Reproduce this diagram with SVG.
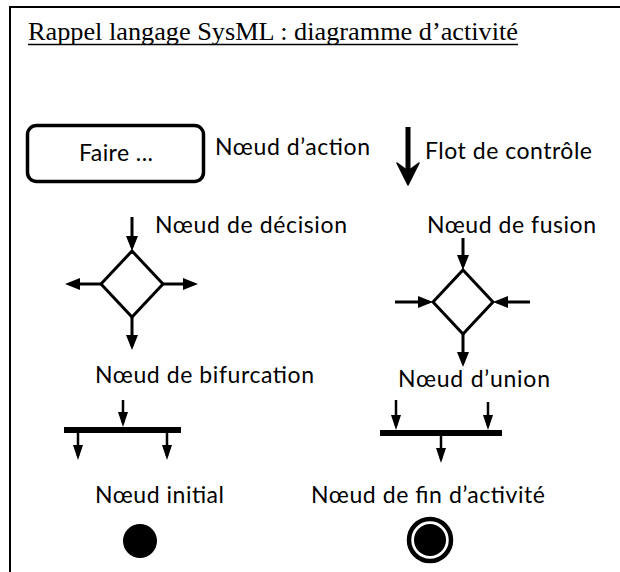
<svg xmlns="http://www.w3.org/2000/svg" width="620" height="572" viewBox="0 0 620 572">
<style>
.lbl{font-family:Lato,"Open Sans","Liberation Sans",sans-serif;font-size:23px;fill:#000}
.ttl{font-family:"Liberation Serif","Times New Roman",serif;font-size:25px;fill:#000}
.ln{stroke:#000;stroke-width:3;fill:none}
.thin{stroke:#000;stroke-width:2.5;fill:none}
.sh{stroke:#000;stroke-width:3;fill:#fff}
</style>
<defs>
<marker id="ah" viewBox="0 0 15 12" markerWidth="15" markerHeight="12" refX="11" refY="6" orient="auto" markerUnits="userSpaceOnUse">
<path d="M0,0 L15,6 L0,12 z" fill="#000"/>
</marker>
<marker id="ahs" viewBox="0 0 15 10" markerWidth="15" markerHeight="10" refX="11" refY="5" orient="auto" markerUnits="userSpaceOnUse">
<path d="M0,0 L15,5 L0,10 z" fill="#000"/>
</marker>
</defs>
<rect width="620" height="572" fill="#fff"/>
<path d="M10,572 V7 H620" stroke="#000" stroke-width="2" fill="none"/>
<g id="title">
<text class="ttl" x="28" y="40" textLength="490" lengthAdjust="spacingAndGlyphs">Rappel langage SysML : diagramme d’activité</text>
<line x1="28" y1="44.5" x2="518" y2="44.5" stroke="#000" stroke-width="1.3"/>
</g>
<g id="action">
<rect x="27.5" y="125.5" width="176" height="56" rx="9" ry="9" fill="#fff" stroke="#000" stroke-width="3.5"/>
<text class="lbl" x="79" y="161" textLength="74">Faire ...</text>
<text class="lbl" x="215" y="155" textLength="155">Nœud d’action</text>
</g>
<g id="flow">
<line x1="408" y1="127" x2="408" y2="175" stroke="#000" stroke-width="5"/>
<polygon points="397,163 408,185 419,163 408,171" fill="#000" stroke="#000" stroke-width="1.5" stroke-linejoin="round"/>
<text class="lbl" x="425" y="159" textLength="167">Flot de contrôle</text>
</g>
<g id="decision">
<polygon class="sh" points="132,251 163,284 132,317 101,284"/>
<text class="lbl" x="155" y="233" textLength="192">Nœud de décision</text>
</g>
<g id="fusion">
<polygon class="sh" points="463,270 493,302 463,334 433,302"/>
<text class="lbl" x="427" y="233" textLength="169">Nœud de fusion</text>
</g>
<g id="fork">
<rect x="64" y="427" width="117" height="6" fill="#000"/>
<text class="lbl" x="95" y="383" textLength="219">Nœud de bifurcation</text>
</g>
<g id="join">
<rect x="380" y="430" width="122" height="6" fill="#000"/>
<text class="lbl" x="398" y="387" textLength="152">Nœud d’union</text>
</g>
<g id="initial">
<circle cx="140" cy="541" r="17" fill="#000"/>
<text class="lbl" x="95" y="503" textLength="129">Nœud initial</text>
</g>
<g id="final">
<circle cx="430" cy="540" r="21" fill="none" stroke="#000" stroke-width="4.5"/>
<circle cx="430" cy="540" r="16" fill="#000"/>
<text class="lbl" x="311" y="503" textLength="234">Nœud de fin d’activité</text>
</g>
<g id="connectors">
<line class="ln" x1="132" y1="217" x2="132" y2="247" marker-end="url(#ah)"/>
<line class="ln" x1="101" y1="284" x2="69" y2="284" marker-end="url(#ah)"/>
<line class="ln" x1="163" y1="284" x2="194" y2="284" marker-end="url(#ah)"/>
<line class="ln" x1="132" y1="317" x2="132" y2="346" marker-end="url(#ah)"/>
<line class="ln" x1="463" y1="238" x2="463" y2="266" marker-end="url(#ah)"/>
<line class="ln" x1="395" y1="302" x2="429" y2="302" marker-end="url(#ah)"/>
<line class="ln" x1="530" y1="302" x2="497" y2="302" marker-end="url(#ah)"/>
<line class="ln" x1="463" y1="334" x2="463" y2="363" marker-end="url(#ah)"/>
<line class="thin" x1="123" y1="400" x2="123" y2="423" marker-end="url(#ahs)"/>
<line class="thin" x1="78" y1="433" x2="78" y2="456" marker-end="url(#ahs)"/>
<line class="thin" x1="167" y1="433" x2="167" y2="456" marker-end="url(#ahs)"/>
<line class="thin" x1="396" y1="400" x2="396" y2="426" marker-end="url(#ahs)"/>
<line class="thin" x1="488" y1="402" x2="488" y2="426" marker-end="url(#ahs)"/>
<line class="thin" x1="441" y1="436" x2="441" y2="459" marker-end="url(#ahs)"/>
</g>
</svg>
